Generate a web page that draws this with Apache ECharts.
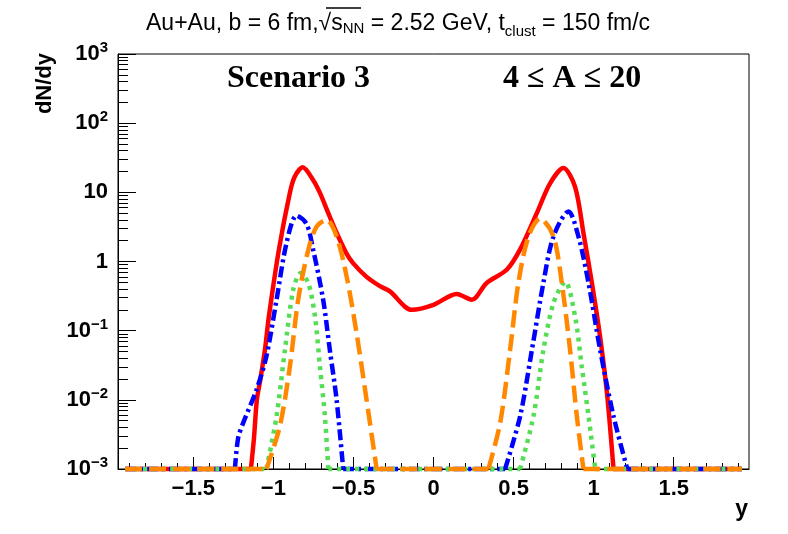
<!DOCTYPE html>
<html>
<head>
<meta charset="utf-8">
<script src="https://cdn.jsdelivr.net/npm/echarts@6/dist/echarts.min.js"></script>
<style>
  html, body { margin: 0; padding: 0; background: #fff; }
  #chart { width: 788px; height: 534px; }
</style>
</head>
<body>
<div id="chart"></div>
<script>
// dN/dy of clusters, 4 <= A <= 20 (0.001 = bin at the floor)
const FLOOR = 0.001;

const redX = [-1.925, -1.14, -1.121, -1.103, -1.084, -1.053, -1.028, -0.965, -0.897, -0.866, -0.817, -0.751, -0.709, -0.657, -0.605, -0.543, -0.501, -0.418, -0.334, -0.272, -0.136, 0.0, 0.145, 0.239, 0.332, 0.457, 0.541, 0.645, 0.728, 0.811, 0.884, 0.936, 0.989, 1.04, 1.083, 1.124, 1.925];
const redY = [0.001, 0.001, 0.0028, 0.01, 0.018, 0.052, 0.16, 1.5, 9.8, 16.9, 23, 15, 9.8, 5, 2.6, 1.3, 0.94, 0.6, 0.44, 0.37, 0.2, 0.236, 0.34, 0.28, 0.49, 0.76, 1.5, 5, 13.5, 22.4, 12, 2.6, 0.49, 0.082, 0.0126, 0.001, 0.001];

const blueX = [-1.925, -1.24, -1.22, -1.189, -1.105, -1.043, -0.98, -0.918, -0.855, -0.793, -0.751, -0.689, -0.647, -0.605, -0.564, 0.447, 0.541, 0.614, 0.686, 0.749, 0.843, 0.905, 0.968, 1.041, 1.124, 1.21, 1.925];
const blueY = [0.001, 0.001, 0.0028, 0.0046, 0.014, 0.043, 0.28, 1.84, 4.6, 3.5, 1.47, 0.28, 0.052, 0.01, 0.001, 0.001, 0.0058, 0.052, 0.49, 2.3, 5.3, 2.3, 0.49, 0.052, 0.0058, 0.001, 0.001];

const greenX = [-1.925, -1.043, -0.98, -0.928, -0.876, -0.83, -0.782, -0.74, -0.709, -0.678, -0.657, 0.541, 0.624, 0.686, 0.749, 0.822, 0.884, 0.926, 0.968, 1.01, 1.925];
const greenY = [0.001, 0.001, 0.0058, 0.052, 0.39, 0.68, 0.49, 0.16, 0.03, 0.0058, 0.001, 0.001, 0.0058, 0.052, 0.25, 0.51, 0.16, 0.03, 0.0058, 0.001, 0.001];

const orangeX = [-1.925, -1.043, -0.959, -0.897, -0.845, -0.782, -0.73, -0.668, -0.605, -0.542, -0.48, -0.418, -0.355, 0.343, 0.416, 0.478, 0.53, 0.593, 0.666, 0.749, 0.801, 0.853, 0.895, 0.936, 1.925];
const orangeY = [0.001, 0.001, 0.0042, 0.03, 0.28, 1.47, 3.2, 4.0, 2.3, 0.6, 0.091, 0.01, 0.001, 0.001, 0.0046, 0.052, 0.49, 2.3, 4.2, 2.3, 0.49, 0.052, 0.0058, 0.001, 0.001];

const xLabels = [-1.5, -1, -0.5, 0, 0.5, 1, 1.5];

// minor tick positions (x every 0.1, y at 2..9 x 10^n in log10 units)
const xMinor = [];
for (let i = -19; i <= 19; i++) xMinor.push(i / 10);
const yMinor = [];
for (let n = -3; n < 3; n++) {
  for (let k = 2; k <= 9; k++) yMinor.push(n + Math.log10(k));
}

// floor runs are drawn as their own straight pieces so the smoothing
// doesn't round off the corner where a curve meets the floor
const withBreaks = (xs, ys) => {
  const out = [];
  for (let i = 0; i < xs.length; i++) {
    if (i > 0 && ys[i] === FLOOR && ys[i - 1] === FLOOR) {
      out.push(null, [xs[i - 1], ys[i - 1]], [xs[i], ys[i]], null);
    }
    out.push([xs[i], ys[i]]);
  }
  return out;
};

const chart = echarts.init(document.getElementById('chart'));

const lineSeries = (name, xs, ys, color, type) => ({
  name: name,
  type: 'line',
  data: withBreaks(xs, ys),
  connectNulls: false,
  showSymbol: false,
  smooth: 0.3,
  clip: false,
  lineStyle: { color: color, width: 4.5, type: type, cap: 'butt' },
  itemStyle: { color: color }
});

const minus = v => (v < 0 ? '\u2212' + Math.abs(v) : String(v));

const option = {
  backgroundColor: '#fff',
  animation: false,
  textStyle: { fontFamily: 'Liberation Sans' },
  title: {
    left: 141,
    top: 3,
    text: 'Au+Au, b = 6 fm,\u221A{s|s}{sub|NN} = 2.52 GeV, t{sub2|clust} = 150 fm/c',
    textStyle: {
      fontFamily: 'Liberation Sans',
      fontWeight: 'normal',
      fontSize: 23,
      color: '#000',
      rich: {
        s: { fontSize: 23, fontFamily: 'Liberation Sans' },
        sub: { fontSize: 15, fontFamily: 'Liberation Sans', padding: [10, 0, 0, 0] },
        sub2: { fontSize: 15, fontFamily: 'Liberation Sans', padding: [16, 0, 0, 0] }
      }
    }
  },
  grid: {
    left: 118,
    right: 39,
    top: 54,
    bottom: 65,
    show: true,
    borderColor: '#000',
    borderWidth: 1,
    backgroundColor: 'transparent'
  },
  xAxis: [
    {
      type: 'value',
      min: -1.97,
      max: 1.97,
      name: 'y',
      nameLocation: 'end',
      nameGap: -1,
      nameTextStyle: {
        fontFamily: 'Liberation Sans', fontWeight: 'bold', fontSize: 23, color: '#000',
        align: 'right', verticalAlign: 'top', padding: [29, 0, 0, 0]
      },
      axisLine: { onZero: false, lineStyle: { color: '#000', width: 1 } },
      axisTick: { inside: true, length: 12, customValues: xLabels, lineStyle: { color: '#000' } },
      axisLabel: {
        customValues: xLabels,
        formatter: minus,
        fontFamily: 'Liberation Sans',
        fontWeight: 'bold',
        fontSize: 22,
        color: '#000',
        margin: 9
      },
      splitLine: { show: false }
    },
    {
      type: 'value',
      min: -1.97,
      max: 1.97,
      position: 'bottom',
      axisLine: { show: false, onZero: false },
      axisTick: { inside: true, length: 6, customValues: xMinor, lineStyle: { color: '#000' } },
      axisLabel: { show: false },
      splitLine: { show: false }
    }
  ],
  yAxis: [
    {
      type: 'log',
      logBase: 10,
      min: 0.001,
      max: 1000,
      axisLine: { show: true, onZero: false, lineStyle: { color: '#000', width: 1 } },
      axisTick: { inside: true, length: 18, lineStyle: { color: '#000' } },
      axisLabel: {
        fontFamily: 'Liberation Sans',
        fontWeight: 'bold',
        fontSize: 22,
        color: '#000',
        margin: 10,
        formatter: v => {
          const n = Math.round(Math.log10(v));
          if (n === 0) return '{b|1}';
          if (n === 1) return '{b|10}';
          return '{b|10}{sup|' + (n < 0 ? '\u2212' + (-n) : n) + '}';
        },
        rich: {
          b: { fontFamily: 'Liberation Sans', fontWeight: 'bold', fontSize: 22, color: '#000' },
          sup: { fontFamily: 'Liberation Sans', fontWeight: 'bold', fontSize: 15, color: '#000', padding: [0, 0, 12, 0] }
        }
      },
      splitLine: { show: false }
    },
    {
      type: 'value',
      min: -3,
      max: 3,
      position: 'left',
      axisLine: { show: false, onZero: false },
      axisTick: { inside: true, length: 10, customValues: yMinor, lineStyle: { color: '#000' } },
      axisLabel: { show: false },
      splitLine: { show: false }
    }
  ],
  series: [
    lineSeries('red', redX, redY, '#ff0000', 'solid'),
    lineSeries('blue', blueX, blueY, '#0000ff', [11, 4, 3, 4]),
    lineSeries('green', greenX, greenY, '#55dd55', [4, 5]),
    lineSeries('orange', orangeX, orangeY, '#ff8800', [17, 7])
  ],
  graphic: [
    {
      type: 'line',
      shape: { x1: 326, y1: 8, x2: 361, y2: 8 },
      style: { stroke: '#000', lineWidth: 1.3 }
    },
    {
      type: 'text',
      left: 227,
      top: 63,
      style: { text: 'Scenario 3', font: 'bold 32px "Liberation Serif"', fill: '#000' }
    },
    {
      type: 'text',
      left: 503,
      top: 63,
      style: { text: '4 \u2264 A \u2264 20', font: 'bold 32px "Liberation Serif"', fill: '#000' }
    },
    {
      type: 'text',
      x: 45,
      y: 53,
      rotation: Math.PI / 2,
      style: {
        text: 'dN/dy', font: 'bold 22px "Liberation Sans"', fill: '#000',
        align: 'right', verticalAlign: 'middle'
      }
    }
  ]
};

chart.setOption(option);
</script>
</body>
</html>
